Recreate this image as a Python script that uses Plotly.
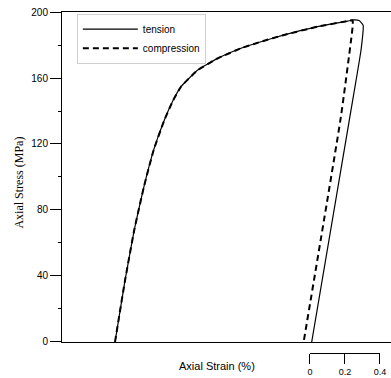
import plotly.graph_objects as go

# Data (strain in %, stress in MPa)
tension_strain = [0.0, 0.055, 0.110, 0.165, 0.221, 0.282, 0.330, 0.377, 0.473, 0.587, 0.720, 0.834, 0.967, 1.158, 1.330, 1.365, 1.395, 1.418, 1.406, 1.339, 1.124]
tension_stress = [0.0, 36.0, 67.9, 94.0, 116.4, 134.5, 146.0, 154.7, 164.8, 171.9, 178.0, 182.0, 186.1, 191.1, 194.5, 195.2, 194.8, 192.0, 177.0, 134.5, 0.0]
compression_strain = [0.0, 0.055, 0.110, 0.165, 0.221, 0.282, 0.330, 0.377, 0.473, 0.587, 0.720, 0.834, 0.967, 1.158, 1.330, 1.358, 1.358, 1.291, 1.078]
compression_stress = [0.0, 36.0, 67.9, 94.0, 116.4, 134.5, 146.0, 154.7, 164.8, 171.9, 178.0, 182.0, 186.1, 191.1, 194.5, 195.0, 191.1, 136.5, 0.0]

y_ticks = [0, 40, 80, 120, 160, 200]
scale_ticks = [0, 0.2, 0.4]
scale_labels = ["0", "0.2", "0.4"]

fig = go.Figure()
fig.add_trace(go.Scatter(x=tension_strain, y=tension_stress, mode="lines", name="tension",
                         line=dict(color="black", width=1.2, shape="spline", smoothing=0.4)))
fig.add_trace(go.Scatter(x=compression_strain, y=compression_stress, mode="lines", name="compression",
                         line=dict(color="black", width=2, dash="6px,4px", shape="spline", smoothing=0.4)))
# helper (invisible) trace so the strain scale-bar axis is drawn
fig.add_trace(go.Scatter(x=scale_ticks, y=[None] * len(scale_ticks), xaxis="x2", yaxis="y",
                         mode="lines", showlegend=False, hoverinfo="skip"))

sans = "Liberation Sans, Arial, sans-serif"
serif = "Liberation Serif, Times New Roman, serif"

fig.update_layout(
    width=398, height=378,
    margin=dict(l=62, r=0, t=12, b=25),
    paper_bgcolor="white", plot_bgcolor="rgba(0,0,0,0)",
    showlegend=True,
    legend=dict(x=0.045, y=0.995, xanchor="left", yanchor="top",
                font=dict(family=sans, size=10, color="black"),
                bgcolor="rgba(255,255,255,0)", bordercolor="#d0d0d0", borderwidth=1,
                itemwidth=55, tracegroupgap=0),
    xaxis=dict(domain=[0, 1], range=[-0.303, 1.583], anchor="y",
               showline=True, linecolor="black", linewidth=1, mirror=True,
               showticklabels=False, ticks="", showgrid=False, zeroline=False),
    xaxis2=dict(domain=[0.7515, 0.9636], range=[0, 0.4], anchor="free", position=0,
                showline=True, linecolor="black", linewidth=1,
                tickvals=scale_ticks, ticktext=scale_labels, ticks="outside", ticklen=10,
                tickcolor="black", tickfont=dict(family=sans, size=9, color="black"),
                showgrid=False, zeroline=False),
    yaxis=dict(domain=[0.0323, 1], range=[0, 200], anchor="x",
               showline=True, linecolor="black", linewidth=1,
               tickvals=y_ticks, ticks="outside", ticklen=11, tickcolor="black",
               tickfont=dict(family=sans, size=10, color="black"),
               ticklabeloverflow="allow",
               minor=dict(dtick=20, ticks="outside", ticklen=3, tickcolor="black"),
               showgrid=False, zeroline=False),
    annotations=[
        dict(text="Axial Strain (%)", xref="paper", yref="paper", x=0.47, y=-0.038,
             xanchor="center", yanchor="middle", showarrow=False,
             font=dict(family=sans, size=11, color="black")),
        dict(text="Axial Stress (MPa)", xref="paper", yref="paper", x=-0.133, y=0.5,
             xanchor="center", yanchor="middle", textangle=-90, showarrow=False,
             font=dict(family=serif, size=12, color="black")),
    ],
)

fig.write_html("out.html", config={"displayModeBar": False},
               post_script="document.body.style.margin='0';document.body.style.overflow='hidden';")
